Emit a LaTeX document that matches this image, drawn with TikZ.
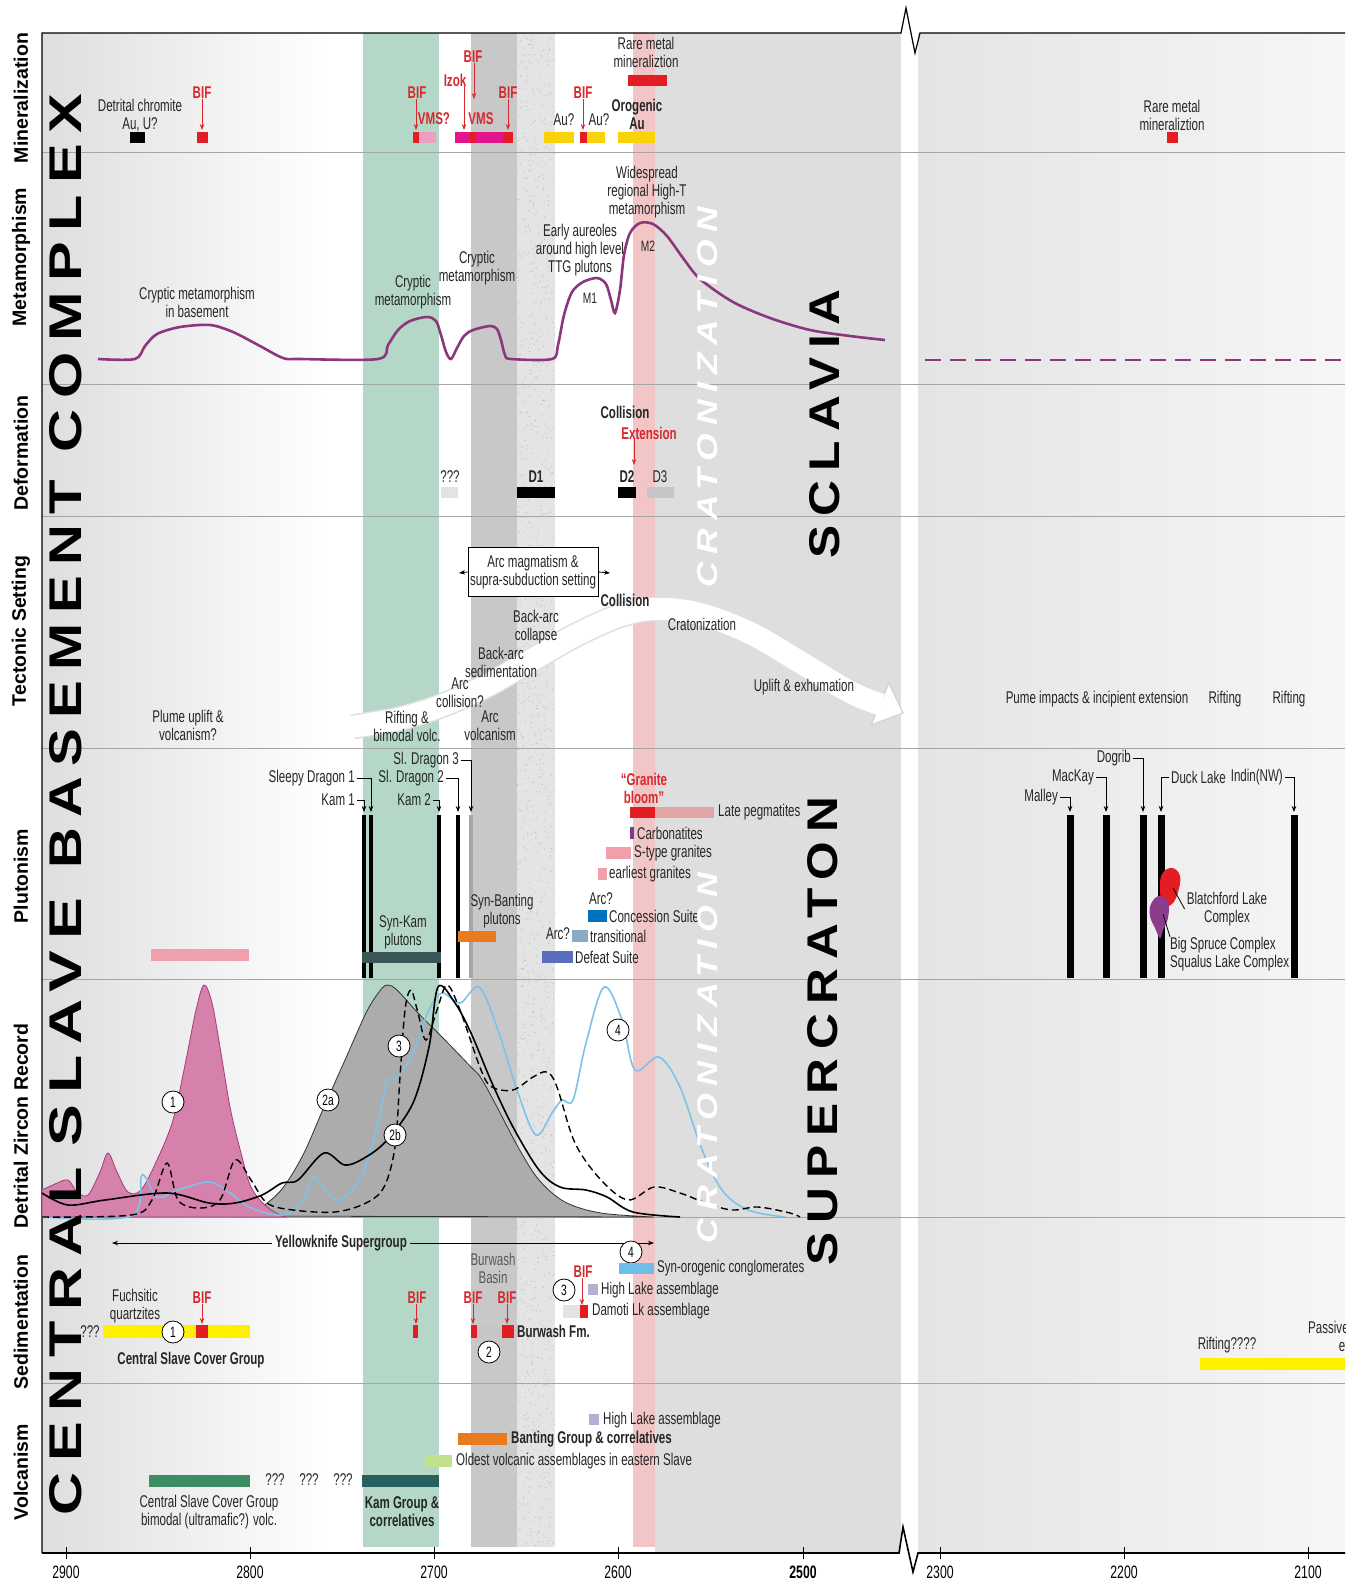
\documentclass[tikz,border=0pt]{standalone}
\usepackage{fontspec}
\setmainfont{Liberation Sans}
\newfontfamily\cndf[FakeStretch=0.68]{Liberation Sans}
\newfontfamily\bigf[LetterSpace=18]{Liberation Sans}
\newfontfamily\cratf[LetterSpace=22]{Liberation Sans}
\usetikzlibrary{arrows.meta}
\definecolor{purp}{RGB}{140,55,125}
\definecolor{redc}{RGB}{226,30,36}
\definecolor{bifred}{RGB}{215,40,45}
\definecolor{pinkv}{RGB}{236,160,190}
\definecolor{magv}{RGB}{228,20,140}
\definecolor{gold}{RGB}{250,210,10}
\definecolor{yel}{RGB}{255,240,0}
\definecolor{pegp}{RGB}{226,165,165}
\definecolor{stp}{RGB}{240,160,170}
\definecolor{carb}{RGB}{120,60,140}
\definecolor{conc}{RGB}{0,112,192}
\definecolor{trans}{RGB}{140,170,196}
\definecolor{defeat}{RGB}{90,110,190}
\definecolor{orng}{RGB}{234,122,30}
\definecolor{slate}{RGB}{58,86,86}
\definecolor{lblue}{RGB}{110,190,232}
\definecolor{lav}{RGB}{180,176,212}
\definecolor{lgreen}{RGB}{192,226,140}
\definecolor{vgreen}{RGB}{62,140,100}
\definecolor{kamc}{RGB}{40,95,95}
\definecolor{zmag}{RGB}{214,128,172}
\definecolor{zmagd}{RGB}{165,60,120}
\definecolor{zgray}{RGB}{172,172,172}
\definecolor{zblue}{RGB}{125,195,232}
\definecolor{bgreen}{RGB}{180,215,199}
\definecolor{bdgray}{RGB}{200,200,200}
\definecolor{bspk}{RGB}{228,228,228}
\definecolor{bpink}{RGB}{242,198,198}
\definecolor{blgray}{RGB}{222,222,222}
\definecolor{rowline}{RGB}{165,165,165}
\definecolor{rpl}{RGB}{228,228,228}
\definecolor{rpr}{RGB}{246,246,246}
\definecolor{purb}{RGB}{140,60,140}
\begin{document}
\begin{tikzpicture}[x=1pt,y=-1pt,
  lbl/.style={font={\cndf\fontsize{17}{18}\selectfont}, inner sep=0pt, align=center, text=black!85},
  blb/.style={lbl, font={\cndf\bfseries\fontsize{17}{18}\selectfont}},
  rlb/.style={lbl, font={\cndf\bfseries\fontsize{17}{18}\selectfont}, text=bifred},
  arr/.style={-{Stealth[length=6pt,width=4.5pt]}, line width=0.8},
  rarr/.style={arr, draw=bifred},
  circ/.style={circle, draw, fill=white, inner sep=0pt, minimum size=22pt, line width=0.8, font={\cndf\fontsize{15}{15}\selectfont}},
  rowlab/.style={rotate=90, inner sep=0pt, font={\bfseries\fontsize{19.5}{20}\selectfont}},
  ticklab/.style={inner sep=0pt, font={\cndf\fontsize{18}{18}\selectfont}},
  vbar/.style={line width=3.6},
  rbar/.style={line width=7}]
\useasboundingbox (0,0) rectangle (1356,1583);
\fill[white] (0,0) rectangle (1356,1583);
% ---------- backgrounds ----------
\shade[left color=blgray, right color=white] (42,33) rectangle (330,1553);
\fill[bgreen] (363,33) rectangle (439,1547);
\fill[bdgray] (471,33) rectangle (517,1547);
\fill[bspk] (517,33) rectangle (555,1547);
\pgfmathsetseed{7}
\foreach \i in {1,...,1400}{\fill[gray!55] ({517+38*rnd},{33+1514*rnd}) circle (0.55);}
\fill[bpink] (633,33) rectangle (655,1547);
\fill[blgray] (655,33) rectangle (901,1553);
\shade[left color=rpl, right color=rpr] (918,33) rectangle (1345,1553);
% row lines
\foreach \yy in {152,384,516,748,979,1217,1383}{\draw[rowline, line width=0.6] (42,\yy) -- (1345,\yy);}
% ---------- frame and axis ----------
\draw[line width=1.2] (42,1553) -- (42,33) -- (901,33) -- (906,8) -- (915,53) -- (920,33) -- (1345,33);
\draw[line width=1.6] (42,1553) -- (899,1553) -- (903,1527) -- (913,1572) -- (918,1553) -- (1345,1553);
\foreach \t/\xx in {2900/66,2800/250,2700/434,2600/618,2300/940,2200/1124,2100/1308}{
  \draw[line width=0.9] (\xx,1547) -- (\xx,1559);
  \node[ticklab] (tk\t) at (\xx,1572) {\t};}
\draw[line width=0.9] (803,1547) -- (803,1559);
\node[ticklab, font={\cndf\bfseries\fontsize{18}{18}\selectfont}] (tk2500) at (803,1572) {2500};
% ---------- row labels ----------
\node[rowlab] (rl1) at (21,98) {Mineralization};
\node[rowlab] (rl2) at (21,257) {Metamorphism};
\node[rowlab] (rl3) at (21,453) {Deformation};
\node[rowlab] (rl4) at (21,631) {Tectonic Setting};
\node[rowlab] (rl5) at (21,876) {Plutonism};
\node[rowlab] (rl6) at (21,1126) {Detrital Zircon Record};
\node[rowlab] (rl7) at (21,1322) {Sedimentation};
\node[rowlab] (rl8) at (21,1472) {Volcanism};
% ---------- Mineralization ----------
\node[lbl] (dc) at (140,115) {Detrital chromite\\Au, U?};
\fill[black] (130,132) rectangle (145,143);
\node[rlb] (bif1) at (202,93) {BIF};
\coordinate (bif1e) at (202,130);
\draw[rarr] (bif1) -- (bif1e);
\fill[redc] (197,132) rectangle (208,143);
\node[rlb] (bif2) at (417,93) {BIF};
\coordinate (bif2e) at (416,130);
\draw[rarr] (bif2.south -| bif2e) -- (bif2e);
\node[rlb] (vms1) at (434,119) {VMS?};
\fill[redc] (413,132) rectangle (419,143);
\fill[pinkv] (419,132) rectangle (436,143);
\node[rlb] (izok) at (455,80) {Izok};
\coordinate (izoke) at (464,130);
\draw[rarr] (izok.south east -| izoke) -- (izoke);
\node[rlb] (bif3) at (473,57) {BIF};
\coordinate (bif3e) at (474,99);
\draw[rarr] (bif3.south -| bif3e) -- (bif3e);
\node[rlb] (vms2) at (481,119) {VMS};
\fill[magv] (455,132) rectangle (503,143);
\fill[redc] (470,132) rectangle (476,143);
\fill[redc] (503,132) rectangle (513,143);
\node[rlb] (bif4) at (508,93) {BIF};
\coordinate (bif4e) at (508,130);
\draw[rarr] (bif4) -- (bif4e);
\node[lbl] (au1) at (564,120) {Au?};
\fill[gold] (544,132) rectangle (574,143);
\node[rlb] (bif5) at (583,93) {BIF};
\coordinate (bif5e) at (583,130);
\draw[rarr] (bif5) -- (bif5e);
\fill[redc] (580,132) rectangle (587,143);
\fill[gold] (587,132) rectangle (605,143);
\node[lbl] (au2) at (599,120) {Au?};
\node[blb] (orog) at (637,114) {Orogenic\\Au};
\fill[gold] (618,132) rectangle (655,143);
\node[lbl] (rm1) at (646,52) {Rare metal\\mineraliztion};
\fill[redc] (628,75) rectangle (667,86);
\node[lbl] (rm2) at (1172,115) {Rare metal\\mineraliztion};
\fill[redc] (1167,132) rectangle (1178,143);
% ---------- Metamorphism ----------
\draw[purp, line width=2.6] plot[smooth, tension=0.5] coordinates {(98,359) (135,359) (145,346) (157,334) (180,327) (210,325) (233,332) (260,346) (283,358) (300,359) (378,359) (388,345) (398,330) (410,321) (427,317) (436,321) (441,335) (446,352) (451,359) (457,348) (464,336) (473,330) (490,326) (497,329) (501,340) (505,355) (511,359) (552,359) (558,345) (564,315) (572,292) (583,282) (597,278) (606,284) (611,300) (615,313) (620,290) (624,255) (630,233) (640,223) (653,224) (667,236) (683,258) (700,279) (733,302) (770,318) (810,330) (850,336) (885,340)};
\draw[purp, line width=2.8, dash pattern=on 16 off 9] (925,360) -- (1345,360);
\node[lbl] (cm1) at (197,302) {Cryptic metamorphism\\in basement};
\node[lbl] (cm2) at (413,292) {Cryptic\\metamorphism};
\node[lbl] (cm3) at (477,268) {Cryptic\\metamorphism};
\node[lbl] (ea) at (580,250) {Early aureoles\\around high level\\TTG plutons};
\node[lbl, font={\cndf\fontsize{15}{15}\selectfont}] (mm1) at (590,298) {M1};
\node[lbl] (wr) at (647,192) {Widespread\\regional High-T\\metamorphism};
\node[lbl, font={\cndf\fontsize{15}{15}\selectfont}] (mm2) at (648,246) {M2};
% ---------- Deformation ----------
\node[blb] (col1) at (625,412) {Collision};
\node[rlb] (ext) at (649,433) {Extension};
\coordinate (exte) at (634,465);
\draw[rarr] (ext.south -| exte) -- (exte);
\node[lbl] (q3) at (450,477) {???};
\fill[gray!22] (441,487) rectangle (458,498);
\node[blb] (d1) at (536,477) {D1};
\fill[black] (517,487) rectangle (555,498);
\node[blb] (d2) at (627,477) {D2};
\fill[black] (618,487) rectangle (636,498);
\node[lbl] (d3) at (660,477) {D3};
\fill[gray!45] (647,487) rectangle (674,498);
% ---------- Tectonic setting ----------
\draw[gray!25, line width=25, {Triangle Cap[reversed]}-] plot[smooth, tension=0.6] coordinates {(352,727) (420,713) (480,689) (530,661) (580,633) (625,614) (660,609) (700,614) (750,633) (800,662) (850,692) (880,704)};
\filldraw[fill=white, draw=gray!35, line width=1.2, line join=round] (889,683) -- (903,713) -- (871,725) -- cycle;
\draw[white, line width=22, {Triangle Cap[reversed]}-] plot[smooth, tension=0.6] coordinates {(352,727) (420,713) (480,689) (530,661) (580,633) (625,614) (660,609) (700,614) (750,633) (800,662) (850,692) (881,704.5)};
\node[lbl, draw=black, fill=white, line width=0.8, minimum width=130pt, minimum height=49pt] (arcbox) at (533,572) {Arc magmatism \&\\supra-subduction setting};
\coordinate (arcl) at (459,573);
\coordinate (arcr) at (610,573);
\draw[arr] (arcbox.west) -- (arcl);
\draw[arr] (arcbox.east) -- (arcr);
\node[blb] (col2) at (625,600) {Collision};
\node[lbl] (cra) at (702,624) {Cratonization};
\node[lbl] (bac) at (536,627) {Back-arc\\collapse};
\node[lbl] (bas) at (501,662) {Back-arc\\sedimentation};
\node[lbl] (arcc) at (460,693) {Arc\\collision?};
\node[lbl] (arcv) at (490,726) {Arc\\volcanism};
\node[lbl] (rif) at (407,726) {Rifting \&\\bimodal volc.};
\node[lbl] (upl) at (804,687) {Uplift \& exhumation};
\node[lbl] (plu) at (188,725) {Plume uplift \&\\volcanism?};
\node[lbl] (pume) at (1097,699) {Pume impacts \& incipient extension};
\node[lbl] (rif2) at (1225,699) {Rifting};
\node[lbl] (rif3) at (1289,699) {Rifting};
% ---------- Plutonism ----------
\draw[vbar] (364,815) -- (364,978);
\draw[vbar] (371,815) -- (371,978);
\draw[vbar] (439,815) -- (439,978);
\draw[vbar] (458,815) -- (458,978);
\draw[vbar, gray!70] (471,815) -- (471,978);
\node[lbl, anchor=east] (sd1) at (355,778) {Sleepy Dragon 1};
\coordinate (sd1e) at (371,812);
\draw[arr] ([xshift=2pt]sd1.east) -| (sd1e);
\node[lbl, anchor=east] (k1) at (355,800) {Kam 1};
\coordinate (k1e) at (364,812);
\draw[arr] ([xshift=2pt]k1.east) -| (k1e);
\node[lbl, anchor=east] (sd2) at (444,778) {Sl. Dragon 2};
\coordinate (sd2e) at (458,812);
\draw[arr] ([xshift=2pt]sd2.east) -| (sd2e);
\node[lbl, anchor=east] (k2) at (431,800) {Kam 2};
\coordinate (k2e) at (439,812);
\draw[arr] ([xshift=2pt]k2.east) -| (k2e);
\node[lbl, anchor=east] (sd3) at (459,760) {Sl. Dragon 3};
\coordinate (sd3e) at (471,812);
\draw[arr] ([xshift=2pt]sd3.east) -| (sd3e);
\node[rlb] (gb) at (644,788) {“Granite\\bloom”};
\fill[redc] (630,807) rectangle (655,818);
\fill[pegp] (655,807) rectangle (714,818);
\node[lbl, anchor=west] (lp) at (718,812) {Late pegmatites};
\fill[carb] (630,827) rectangle (634,839);
\node[lbl, anchor=west] (carbn) at (637,833) {Carbonatites};
\fill[stp] (606,847) rectangle (631,859);
\node[lbl, anchor=west] (stg) at (634,853) {S-type granites};
\fill[stp] (598,868) rectangle (607,880);
\node[lbl, anchor=west] (egr) at (609,874) {earliest granites};
\node[lbl] (arc1) at (601,899) {Arc?};
\fill[conc] (588,910) rectangle (607,922);
\node[lbl, anchor=west] (cs) at (609,916) {Concession Suite};
\fill[trans] (572,930) rectangle (588,942);
\node[lbl, anchor=west] (trn) at (590,936) {transitional};
\node[lbl] (arc2) at (558,934) {Arc?};
\fill[defeat] (542,951) rectangle (573,963);
\node[lbl, anchor=west] (dfs) at (575,957) {Defeat Suite};
\node[lbl] (sb) at (502,911) {Syn-Banting\\plutons};
\fill[orng] (458,931) rectangle (496,942);
\node[lbl] (sk) at (403,932) {Syn-Kam\\plutons};
\fill[slate] (362,952) rectangle (441,963);
\fill[stp] (151,949) rectangle (249,961);
% right plutonism
\draw[rbar] (1070,815) -- (1070,978);
\draw[rbar] (1106,815) -- (1106,978);
\draw[rbar] (1143,815) -- (1143,978);
\draw[rbar] (1161,815) -- (1161,978);
\draw[rbar] (1294,815) -- (1294,978);
\node[lbl, anchor=east] (mal) at (1058,797) {Malley};
\coordinate (male) at (1070,812);
\draw[arr] ([xshift=2pt]mal.east) -| (male);
\node[lbl, anchor=east] (mac) at (1094,777) {MacKay};
\coordinate (mace) at (1106,812);
\draw[arr] ([xshift=2pt]mac.east) -| (mace);
\node[lbl, anchor=east] (dog) at (1131,758) {Dogrib};
\coordinate (doge) at (1143,812);
\draw[arr] ([xshift=2pt]dog.east) -| (doge);
\node[lbl, anchor=west] (duck) at (1171,777) {Duck Lake};
\coordinate (ducke) at (1161,812);
\draw[arr] ([xshift=-2pt]duck.west) -| (ducke);
\node[lbl, anchor=east] (ind) at (1283,777) {Indin(NW)};
\coordinate (inde) at (1294,812);
\draw[arr] ([xshift=2pt]ind.east) -| (inde);
\fill[redc] plot[smooth cycle, tension=0.7] coordinates {(1162,874) (1172,868) (1180,876) (1178,892) (1172,904) (1163,905) (1160,890)};
\fill[purb] plot[smooth cycle, tension=0.7] coordinates {(1151,904) (1159,896) (1168,902) (1168,918) (1163,930) (1160,938) (1155,928) (1150,916)};
\node[lbl] (blc) at (1227,909) {Blatchford Lake\\Complex};
\coordinate (rblob) at (1173,888);
\draw[line width=0.8] (rblob) -- ([xshift=-2pt]blc.west);
\node[lbl, anchor=west, align=left] (bsc) at (1170,954) {Big Spruce Complex\\Squalus Lake Complex};
\coordinate (pblob) at (1163,914);
\draw[line width=0.8] (pblob) -- (bsc.north west);
% ---------- Detrital zircon ----------
\fill[zgray, draw=gray!40!black, line width=0.8] plot[smooth, tension=0.55] coordinates {(200,1216) (251,1213) (262,1207) (282,1189) (303,1155) (324,1107) (345,1060) (366,1013) (379,992) (387,985) (397,990) (418,1013) (445,1040) (471,1067) (481,1078) (497,1107) (518,1147) (539,1180) (565,1202) (601,1213) (654,1217)} -- cycle;
\fill[zmag, draw=zmagd, line width=0.8] plot[smooth, tension=0.55] coordinates {(42,1190) (55,1184) (68,1180) (77,1192) (88,1195) (100,1172) (108,1153) (117,1172) (128,1192) (141,1190) (157,1160) (173,1120) (186,1060) (196,1010) (204,985) (212,1003) (220,1047) (230,1107) (241,1153) (251,1187) (267,1207) (285,1217)} -- (42,1217) -- cycle;
\draw[zblue, line width=1.6] plot[smooth, tension=0.55] coordinates {(42,1217) (131,1216) (142,1175) (157,1197) (178,1190) (209,1182) (230,1193) (251,1208) (282,1215) (303,1200) (314,1177) (327,1193) (340,1200) (361,1177) (377,1127) (387,1082) (397,1077) (413,1053) (429,1010) (442,993) (460,1003) (479,987) (497,1027) (518,1093) (536,1135) (552,1113) (562,1100) (573,1100) (586,1043) (604,987) (622,1020) (635,1070) (659,1057) (680,1087) (701,1147) (722,1190) (748,1210) (785,1217)};
\draw[black, line width=1.4, dash pattern=on 7 off 4] plot[smooth, tension=0.55] coordinates {(42,1217) (131,1215) (152,1200) (167,1163) (178,1200) (199,1208) (220,1200) (235,1160) (251,1180) (267,1203) (293,1210) (335,1212) (366,1203) (384,1187) (395,1147) (400,1077) (405,1010) (411,990) (418,1013) (426,1040) (437,1010) (447,985) (460,1010) (481,1070) (492,1087) (513,1090) (533,1077) (547,1072) (557,1087) (575,1143) (601,1180) (628,1200) (654,1187) (680,1193) (706,1203) (732,1210) (758,1207) (790,1213) (800,1217)};
\draw[black, line width=1.6] plot[smooth, tension=0.55] coordinates {(42,1193) (68,1205) (105,1200) (167,1193) (209,1203) (235,1203) (262,1195) (282,1183) (298,1180) (324,1153) (345,1165) (366,1157) (387,1140) (413,1103) (429,1047) (438,987) (455,1003) (471,1033) (492,1083) (513,1127) (539,1170) (560,1187) (586,1190) (607,1197) (633,1212) (680,1217)};
\node[circ] (z1) at (173,1102) {1};
\node[circ] (z2a) at (328,1100) {2a};
\node[circ] (z2b) at (395,1135) {2b};
\node[circ] (z3) at (399,1046) {3};
\node[circ] (z4) at (618,1030) {4};
% ---------- Sedimentation ----------
\node[blb] (yk) at (341,1243) {Yellowknife Supergroup};
\coordinate (ykl) at (112,1243);
\coordinate (ykr) at (654,1243);
\draw[arr] ([xshift=-3pt]yk.west) -- (ykl);
\draw[arr] ([xshift=3pt]yk.east) -- (ykr);
\node[circ] (c4s) at (631,1252) {4};
\fill[lblue] (619,1263) rectangle (654,1274);
\node[lbl, anchor=west] (soc) at (657,1268) {Syn-orogenic conglomerates};
\node[lbl, text=black!65] (bb) at (493,1268) {Burwash\\Basin};
\node[rlb] (bif6) at (583,1272) {BIF};
\coordinate (bif6e) at (582,1305);
\draw[rarr] (bif6.south -| bif6e) -- (bif6e);
\node[circ] (c3s) at (564,1290) {3};
\fill[lav] (588,1284) rectangle (598,1295);
\node[lbl, anchor=west] (hl1) at (601,1290) {High Lake assemblage};
\fill[gray!22] (563,1305) rectangle (580,1318);
\fill[redc] (580,1305) rectangle (588,1318);
\node[lbl, anchor=west] (dla) at (592,1311) {Damoti Lk assemblage};
\node[lbl] (fq) at (135,1306) {Fuchsitic\\quartzites};
\node[rlb] (bif7) at (202,1298) {BIF};
\coordinate (bif7e) at (202,1324);
\draw[rarr] (bif7) -- (bif7e);
\node[lbl] (q4) at (90,1332) {???};
\fill[yel] (103,1325) rectangle (250,1338);
\fill[redc] (196,1325) rectangle (208,1338);
\node[circ] (c1s) at (173,1332) {1};
\node[blb] (cscg) at (191,1360) {Central Slave Cover Group};
\node[rlb] (bif8) at (417,1298) {BIF};
\coordinate (bif8e) at (416,1324);
\draw[rarr] (bif8.south -| bif8e) -- (bif8e);
\fill[redc] (413,1325) rectangle (418,1338);
\node[rlb] (bif9) at (473,1298) {BIF};
\coordinate (bif9e) at (473,1324);
\draw[rarr] (bif9) -- (bif9e);
\node[rlb] (bif10) at (507,1298) {BIF};
\coordinate (bif10e) at (507,1324);
\draw[rarr] (bif10) -- (bif10e);
\fill[gray!45] (471,1325) rectangle (514,1338);
\fill[redc] (471,1325) rectangle (477,1338);
\fill[redc] (502,1325) rectangle (514,1338);
\node[blb, anchor=west] (bfm) at (517,1331) {Burwash Fm.};
\node[circ] (c2s) at (489,1352) {2};
\node[lbl] (rift4) at (1227,1345) {Rifting????};
\fill[yel] (1200,1358) rectangle (1345,1370);
\node[lbl, anchor=west] (pas) at (1308,1327) {Passive};
\node[lbl] (pase) at (1342,1347) {e};
% ---------- Volcanism ----------
\fill[lav] (589,1414) rectangle (599,1425);
\node[lbl, anchor=west] (hl2) at (603,1420) {High Lake assemblage};
\fill[orng] (458,1433) rectangle (507,1445);
\node[blb, anchor=west] (bgc) at (511,1439) {Banting Group \& correlatives};
\fill[lgreen] (425,1455) rectangle (452,1467);
\node[lbl, anchor=west] (ovs) at (456,1461) {Oldest volcanic assemblages in eastern Slave};
\fill[vgreen] (149,1475) rectangle (250,1487);
\node[lbl] (qa) at (275,1480) {???};
\node[lbl] (qb) at (309,1480) {???};
\node[lbl] (qc) at (343,1480) {???};
\fill[kamc] (362,1475) rectangle (439,1487);
\node[blb] (kgc) at (402,1512) {Kam Group \&\\correlatives};
\node[lbl] (cvb) at (209,1512) {Central Slave Cover Group\\bimodal (ultramafic?) volc.};
% ---------- big vertical words ----------
\node[rotate=90, inner sep=0pt, text=white] (cz1) at (708,397) {\resizebox{381pt}{20pt}{\cratf\bfseries\itshape CRATONIZATION}};
\node[rotate=90, inner sep=0pt, text=white] (cz2) at (708,1058) {\resizebox{370pt}{20pt}{\cratf\bfseries\itshape CRATONIZATION}};
\node[rotate=90, inner sep=0pt] (wc) at (66,273) {\resizebox{358pt}{32pt}{\bigf\bfseries COMPLEX}};
\node[rotate=90, inner sep=0pt] (wb) at (66,674) {\resizebox{388pt}{32pt}{\bigf\bfseries BASEMENT}};
\node[rotate=90, inner sep=0pt] (ws) at (66,1022) {\resizebox{249pt}{32pt}{\bigf\bfseries SLAVE}};
\node[rotate=90, inner sep=0pt] (wce) at (66,1341) {\resizebox{348pt}{32pt}{\bigf\bfseries CENTRAL}};
\node[rotate=90, inner sep=0pt] (wsc) at (825,424) {\resizebox{268pt}{30pt}{\bigf\bfseries SCLAVIA}};
\node[rotate=90, inner sep=0pt] (wsu) at (823,1031) {\resizebox{468pt}{30pt}{\bigf\bfseries SUPERCRATON}};
% clip right edge
\fill[white] (1346,0) rectangle (1356,1583);
\end{tikzpicture}
\end{document}
